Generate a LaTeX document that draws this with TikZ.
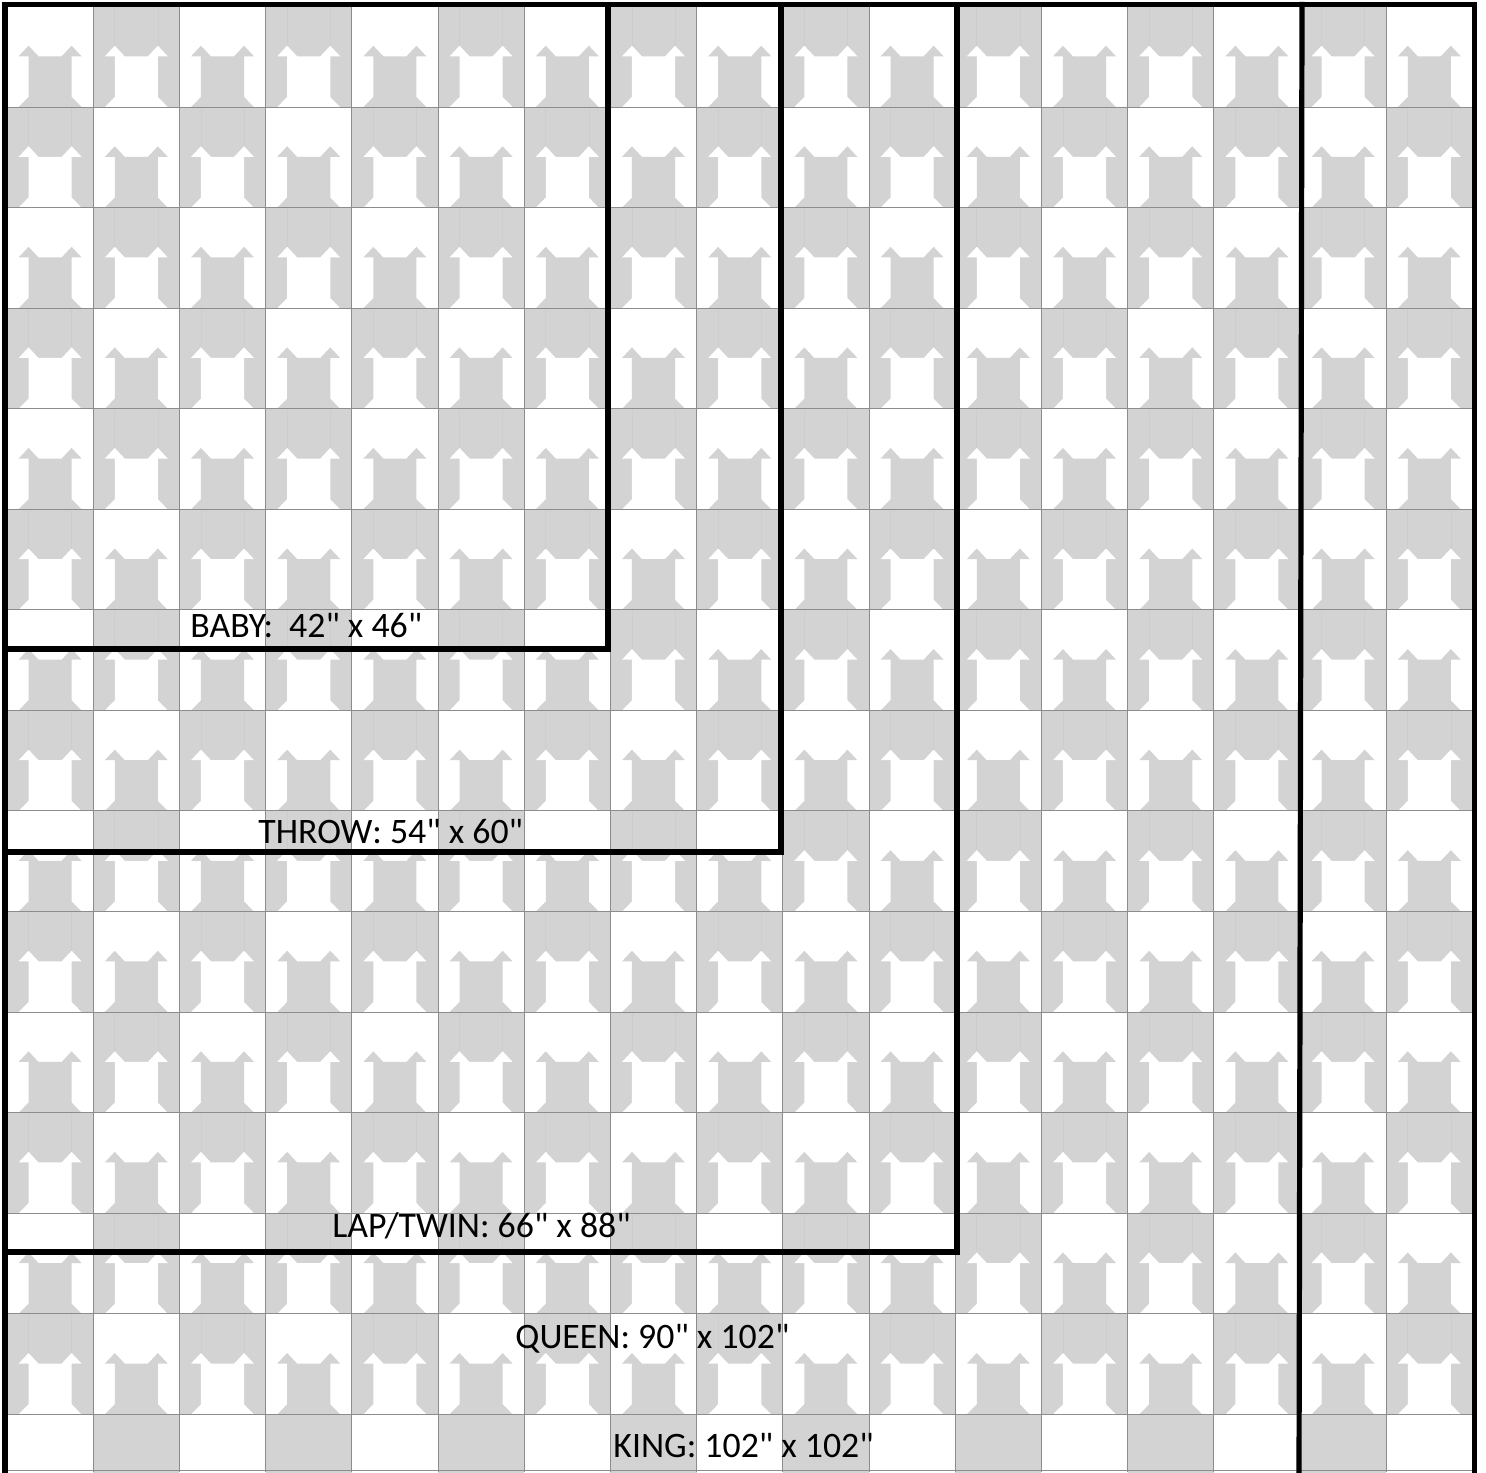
\documentclass[tikz,border=0pt]{standalone}
\usepackage{fontspec}
\newfontfamily\labelfont{Carlito}
\def\q{\char34\relax}
\definecolor{qgrey}{HTML}{D3D3D3}
\definecolor{gridc}{HTML}{8C8C8C}
\definecolor{seamc}{HTML}{CDCDCD}
\tikzset{
  gridline/.style={draw=gridc, line width=0.5pt},
  seamline/.style={draw=seamc, line width=0.3pt},
  sizeline/.style={draw=black, line width=2.6pt, line join=miter, line cap=rect},
  sizelabel/.style={anchor=base west, inner sep=0pt, text=black, font=\labelfont\fontsize{17.9pt}{20pt}\selectfont}
}
\begin{document}
\begin{tikzpicture}[x=0.5pt,y=-0.5pt]
\useasboundingbox (0,0) rectangle (1486,1472);
\fill[white] (0,0) rectangle (1486,1472);
% blocks
\foreach \i in {0,...,16}{
  \foreach \j in {0,...,14}{
    \pgfmathtruncatemacro\pp{mod(\i+\j,2)}
    \ifnum\pp=1 \def\bgc{qgrey}\def\fgc{white}\else\def\bgc{white}\def\fgc{qgrey}\fi
    \begin{scope}[shift={(7+\i*86.2,6.5+\j*100.56)}, xscale=86.2, yscale=100.56]
      \fill[\bgc] (0,0) rectangle (1,1);
      \ifnum\j<14
        \fill[\fgc] (0.135,0.495) -- (0.25,0.39) -- (0.365,0.495) -- (0.635,0.495)
          -- (0.75,0.39) -- (0.865,0.495) -- (0.75,0.495) -- (0.75,0.9)
          -- (0.865,1) -- (0.135,1) -- (0.25,0.9) -- (0.25,0.495) -- cycle;
        \ifnum\pp=1
          \draw[seamline] (0.25,0) -- (0.25,0.39) (0.75,0) -- (0.75,0.39);
        \fi
      \fi
    \end{scope}
  }
}
% grid
\foreach \i in {1,...,16}{
  \draw[gridline] (7+\i*86.2,6.5) -- (7+\i*86.2,1472);
}
\foreach \j in {1,...,14}{
  \draw[gridline] (7,6.5+\j*100.56) -- (1473,6.5+\j*100.56);
}
\draw[gridline] (7,1470.5) -- (1473,1470.5);
% size outlines
\draw[sizeline] (5,1474) -- (5,4.5) -- (1474.5,4.5) -- (1474.5,1474);
\draw[sizeline] (1302,4.5) -- (1299,1474);
\draw[sizeline] (5,649) -- (608,649) -- (608,4.5);
\draw[sizeline] (5,852) -- (781,852) -- (781,4.5);
\draw[sizeline] (5,1252) -- (957,1252) -- (957,4.5);
% labels
\node[sizelabel] (baby) at (190,637) {BABY:\ \ 42\q{} x 46\q};
\node[sizelabel] (throw) at (258,843) {THROW: 54\q{} x 60\q};
\node[sizelabel] (lap) at (332,1237) {LAP/TWIN: 66\q{} x 88\q};
\node[sizelabel] (queen) at (515,1348) {QUEEN: 90\q{} x 102\q};
\node[sizelabel] (king) at (613,1457) {KING: 102\q{} x 102\q};
\end{tikzpicture}
\end{document}
